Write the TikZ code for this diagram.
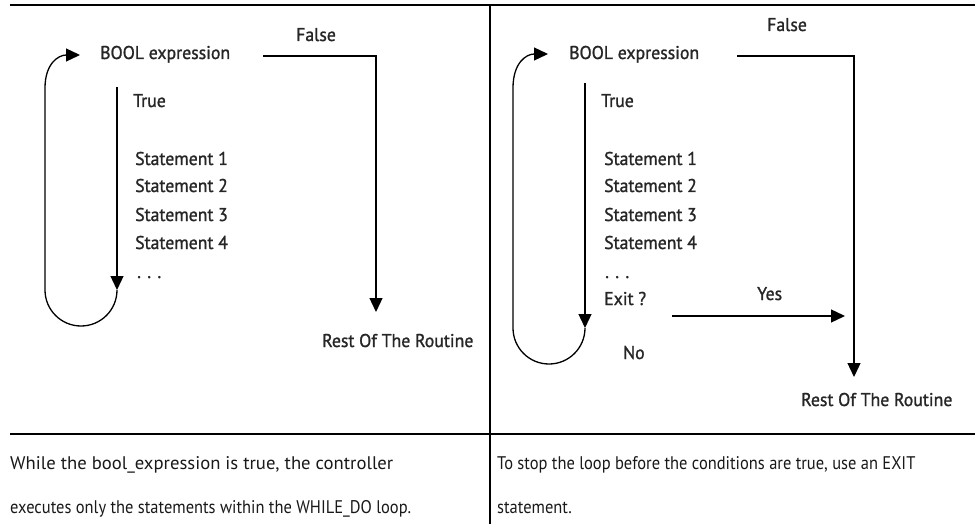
\documentclass[tikz,border=0pt]{standalone}
\usepackage{fontspec}
\setmainfont{PT Sans}
\newfontfamily\diafont[FakeStretch=0.96,FakeBold=1.2]{PT Sans}
\newfontfamily\capfont[FakeStretch=0.9]{PT Sans}
\newfontfamily\capfontw[FakeStretch=1.02]{PT Sans}
\usetikzlibrary{arrows.meta}
\begin{document}
\begin{tikzpicture}[x=1pt,y=-1pt,
  lbl/.style={anchor=base west,inner sep=0pt,font=\diafont\fontsize{18.5}{18.5}\selectfont,text=black!85},
  captext/.style={anchor=base west,inner sep=0pt,font=\capfont\fontsize{18.3}{18.3}\selectfont,text=black!90},
  captextw/.style={anchor=base west,inner sep=0pt,font=\capfontw\fontsize{18.3}{18.3}\selectfont,text=black!90},
  arr/.style={line width=1.3pt,-{Triangle[width=13pt,length=14pt]}},
  rule/.style={line width=2.4pt},
  vrule/.style={line width=1.6pt}]
\useasboundingbox (0,0) rectangle (975,524);
% table
\coordinate (tl) at (10,5); \coordinate (tr) at (975,5);
\coordinate (ml) at (10,434); \coordinate (mr) at (975,434);
\coordinate (dt) at (490,5); \coordinate (db) at (490,524);
\draw[rule] (tl) -- (tr);
\draw[rule] (ml) -- (mr);
\draw[vrule] (dt) -- (db);
% ---------- left panel ----------
\node[lbl] (b1) at (100,59) {BOOL expression};
\node[lbl] (f1) at (296,41) {False};
\node[lbl] (t1) at (133,107) {True};
\node[lbl] (s11) at (135,165) {Statement 1};
\node[lbl] (s12) at (135,192) {Statement 2};
\node[lbl] (s13) at (135,221) {Statement 3};
\node[lbl] (s14) at (135,249) {Statement 4};
\node[lbl] (d1) at (137,278) {. . .};
\node[lbl] (r1) at (322,347) {Rest Of The Routine};
\coordinate (a1s) at (117,87); \coordinate (a1e) at (117,290);
\coordinate (l1) at (45,88); \coordinate (l1e) at (80,55);
\coordinate (f1s) at (263,56); \coordinate (f1c) at (376,56); \coordinate (f1e) at (376,312);
\draw[arr] (a1s) -- (a1e);
\draw[arr] (a1e) arc (0:180:36) -- (l1) .. controls (45,64) and (58,55) .. (l1e);
\draw[arr] (f1s) -- (f1c) -- (f1e);
% ---------- right panel ----------
\node[lbl] (b2) at (569,59) {BOOL expression};
\node[lbl] (f2) at (767,31) {False};
\node[lbl] (t2) at (601,107) {True};
\node[lbl] (s21) at (604,165) {Statement 1};
\node[lbl] (s22) at (604,192) {Statement 2};
\node[lbl] (s23) at (604,221) {Statement 3};
\node[lbl] (s24) at (604,249) {Statement 4};
\node[lbl] (d2) at (605,278) {. . .};
\node[lbl] (x2) at (604,305) {Exit ?};
\node[lbl] (y2) at (757,300) {Yes};
\node[lbl] (n2) at (623,359) {No};
\node[lbl] (r2) at (801,406) {Rest Of The Routine};
\coordinate (a2s) at (585,83); \coordinate (a2e) at (585,328);
\coordinate (l2) at (513,88); \coordinate (l2e) at (548,54);
\coordinate (f2s) at (737,56); \coordinate (f2c) at (854,56); \coordinate (f2e) at (854,377);
\coordinate (y2s) at (672,316); \coordinate (y2e) at (845,316);
\draw[arr] (a2s) -- (a2e);
\draw[arr] (a2e) arc (0:180:36) -- (l2) .. controls (513,63) and (526,54) .. (l2e);
\draw[arr] (f2s) -- (f2c) -- (f2e);
\draw[arr] (y2s) -- (y2e);
% ---------- captions ----------
\node[captextw] (c1a) at (10,469) {While the bool\_expression is true, the controller};
\node[captext] (c1b) at (10,513) {executes only the statements within the WHILE\_DO loop.};
\node[captext] (c2a) at (497,469) {To stop the loop before the conditions are true, use an EXIT};
\node[captext] (c2b) at (497,513) {statement.};
\end{tikzpicture}
\end{document}
